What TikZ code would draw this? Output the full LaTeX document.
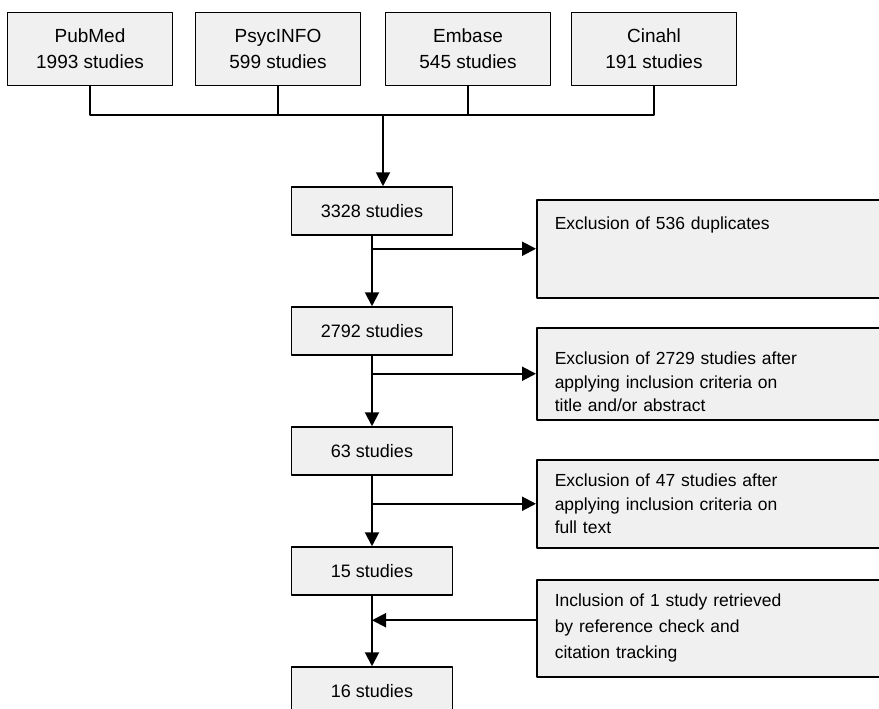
\documentclass[tikz,border=0pt]{standalone}
\usepackage{fontspec}
\setmainfont{Liberation Sans}
\usetikzlibrary{arrows.meta}
\definecolor{boxgray}{RGB}{240,240,240}
\begin{document}
\begin{tikzpicture}[x=1pt,y=-1pt,line join=round,>={Triangle[width=14pt,length=14pt]},
	srcbox/.style={draw,line width=1.5pt,fill=boxgray,minimum width=165pt,minimum height=73pt,inner sep=0pt,align=center,font=\fontsize{19}{26}\selectfont},
	stepbox/.style={draw,line width=1.5pt,fill=boxgray,minimum width=161pt,minimum height=48pt,inner sep=0pt,font=\fontsize{18}{22}\selectfont},
	sidebox/.style={draw,line width=1.5pt,fill=boxgray,anchor=north west,text width=328pt,inner xsep=18pt,inner ysep=4pt,align=left,font=\fontsize{17.5}{23.5}\selectfont},
	flow/.style={line width=2pt}]
	\useasboundingbox (0,0) rectangle (879,709);
	% databases
	\node[srcbox] (pubmed) at (90,49) {PubMed\\1993 studies};
	\node[srcbox] (psycinfo) at (278,49) {PsycINFO\\599 studies};
	\node[srcbox] (embase) at (468,49) {Embase\\545 studies};
	\node[srcbox] (cinahl) at (654,49) {Cinahl\\191 studies};
	\coordinate (bus) at (383,115);
	% main steps
	\node[stepbox] (n3328) at (372,211) {3328 studies};
	\node[stepbox] (n2792) at (372,331) {2792 studies};
	\node[stepbox] (n63) at (372,451) {63 studies};
	\node[stepbox] (n15) at (372,571) {15 studies};
	\node[stepbox] (n16) at (372,691) {16 studies};
	% side boxes
	\node[sidebox,text height=26pt,text depth=64pt] (ex1) at (536,199) {Exclusion of 536 duplicates};
	\node[sidebox,text height=33pt,text depth=51pt] (ex2) at (536,327) {Exclusion of 2729 studies after\\applying inclusion criteria on\\title and/or abstract};
	\node[sidebox,text height=23pt,text depth=57pt] (ex3) at (536,459) {Exclusion of 47 studies after\\applying inclusion criteria on\\full text};
	\node[sidebox,text height=23pt,text depth=66pt,font=\fontsize{17.5}{26}\selectfont] (inc) at (536,579) {Inclusion of 1 study retrieved\\by reference check and\\citation tracking};
	\coordinate (incin) at ([yshift=8pt]inc.west);
	% connectors
	\draw[flow] (pubmed.south) |- (bus) -| (cinahl.south);
	\draw[flow] (psycinfo.south) -- (psycinfo.south |- bus);
	\draw[flow] (embase.south) -- (embase.south |- bus);
	\draw[flow,->] (bus) -- (bus |- n3328.north);
	\draw[flow,->] (n3328.south) -- (n2792.north);
	\draw[flow,->] (n2792.south) -- (n63.north);
	\draw[flow,->] (n63.south) -- (n15.north);
	\draw[flow,->] (n15.south) -- (n16.north);
	\draw[flow,->] (n3328.south |- ex1.west) -- (ex1.west);
	\draw[flow,->] (n2792.south |- ex2.west) -- (ex2.west);
	\draw[flow,->] (n63.south |- ex3.west) -- (ex3.west);
	\draw[flow,->] (incin) -- (n15.south |- incin);
\end{tikzpicture}
\end{document}
